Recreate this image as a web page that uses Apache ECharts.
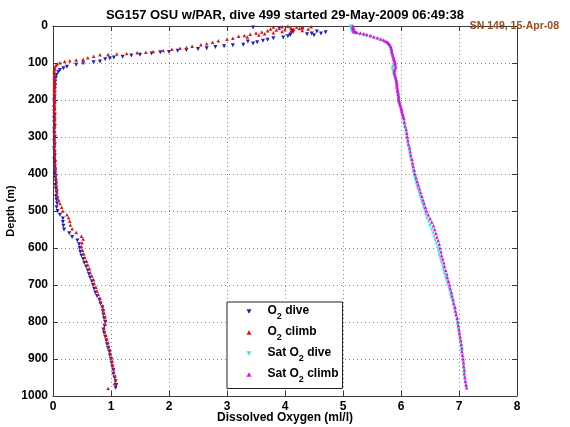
<!DOCTYPE html>
<html>
<head>
<meta charset="utf-8">
<script src="https://cdn.jsdelivr.net/npm/echarts@6/dist/echarts.min.js"></script>
<style>
html,body{margin:0;padding:0;background:#fff;}
#chart{width:570px;height:427px;}
</style>
</head>
<body>
<div id="chart"></div>
<script>
// ---- data: [dissolved oxygen (ml/l), depth (m)] ----
const titleText = 'SG157 OSU w/PAR, dive 499 started 29-May-2009 06:49:38';
const noteText = 'SN 149, 15-Apr-08';
const xTicks = [0, 8, 1];
const yTicks = [0, 1000, 100];
const seriesNames = ['O2 dive', 'O2 climb', 'Sat O2 dive', 'Sat O2 climb'];

const o2Dive = [
 [3.45,4],[3.9,6],[4.3,9],[4.12,12],[4.55,15],[4.14,16],[4.7,17],[4.62,20],[4.46,20],[4.38,22],
 [4.09,24],[4.5,25],[4.05,28],[3.97,31],[3.8,33],[3.7,37],[3.62,40],[3.36,42],[3.52,44],[3.45,47],
 [3.28,51],[3.1,52],[2.95,55],[2.8,57],[2.65,60],[2.5,62],[2.3,65],[2.15,67],[2.0,70],[1.85,71],
 [1.7,74],[1.5,78],[1.35,80],[1.2,83],[1.05,85],[0.98,87],[0.9,90],[0.81,96],[0.7,98],[0.52,101],
 [0.4,105],[0.24,110],[0.18,114],[0.12,119],[0.09,124],[0.06,132],[0.05,140],[0.04,150],[0.04,160],[0.03,170],
 [0.03,180],[0.03,190],[0.02,200],[0.03,210],[0.02,220],[0.02,230],[0.03,240],[0.02,250],[0.02,260],[0.03,270],
 [0.02,280],[0.02,290],[0.03,300],[0.02,310],[0.03,320],[0.02,330],[0.03,340],[0.03,350],[0.02,360],[0.03,370],
 [0.03,380],[0.04,390],[0.03,400],[0.04,410],[0.05,420],[0.04,430],[0.05,440],[0.06,450],[0.05,460],[0.06,470],
 [0.07,480],[0.06,490],[0.08,500],[0.12,510],[0.17,520],[0.17,530],[0.18,540],[0.19,550],[0.28,560],[0.33,570],
 [0.42,580],[0.45,590],[0.46,600],[0.47,610],[0.49,620],[0.52,630],[0.54,640],[0.57,650],[0.6,660],[0.62,670],
 [0.64,680],[0.67,690],[0.69,700],[0.71,710],[0.73,720],[0.76,730],[0.8,740],[0.82,750],[0.85,760],[0.86,770],
 [0.87,780],[0.88,790],[0.9,800],[0.89,810],[0.87,820],[0.88,830],[0.9,840],[0.92,850],[0.93,860],[0.95,870],
 [0.97,880],[0.98,890],[1.0,900],[1.01,910],[1.02,920],[1.04,930],[1.04,940],[1.06,950],[1.08,960],[1.09,970],[1.08,978]
];

const o2Climb = [
 [4.05,1],[3.95,2],[4.2,3],[3.8,3],[4.3,4],[4.1,5],[3.9,6],[4.25,7],[3.75,8],[4.15,9],
 [4.0,10],[3.85,11],[4.3,12],[3.7,13],[4.1,14],[3.95,15],[4.4,8],[4.45,2],[3.6,16],[3.8,18],
 [3.5,19],[3.65,21],[3.4,22],[3.55,24],[3.3,26],[3.2,28],[3.35,30],[3.1,33],[3.0,36],[2.85,40],
 [2.75,44],[2.65,48],[2.55,51],[2.4,55],[2.3,58],[2.19,60],[2.05,63],[1.9,66],[1.73,69],[1.6,71],
 [1.45,72],[1.27,74],[1.1,76],[0.95,77],[0.81,78],[0.7,82],[0.6,86],[0.52,90],[0.4,92],[0.29,94],
 [0.2,96],[0.12,99],[0.07,103],[0.05,107],[0.03,112],[0.03,116],[0.02,120],[0.02,125],[0.03,130],[0.02,135],
 [0.02,140],[0.03,145],[0.02,150],[0.02,155],[0.03,160],[0.02,165],[0.02,170],[0.03,175],[0.02,180],[0.02,185],
 [0.03,190],[0.02,195],[0.02,200],[0.03,205],[0.02,210],[0.02,215],[0.03,220],[0.02,225],[0.02,230],[0.03,235],
 [0.02,240],[0.03,245],[0.03,250],[0.02,255],[0.03,262],[0.03,270],[0.02,278],[0.03,286],[0.03,294],[0.02,302],
 [0.03,310],[0.03,318],[0.02,326],[0.03,334],[0.03,342],[0.03,350],[0.04,360],[0.03,370],[0.04,380],[0.04,390],
 [0.05,400],[0.05,410],[0.06,420],[0.06,430],[0.07,440],[0.07,450],[0.08,460],[0.1,470],[0.12,480],[0.15,490],
 [0.17,500],[0.24,510],[0.27,518],[0.29,528],[0.3,538],[0.33,548],[0.4,558],[0.49,568],[0.52,576],[0.5,586],
 [0.49,596],[0.51,606],[0.53,616],[0.55,626],[0.58,636],[0.6,646],[0.63,656],[0.64,666],[0.67,676],[0.7,686],
 [0.71,696],[0.74,706],[0.76,716],[0.78,726],[0.81,736],[0.82,746],[0.85,756],[0.87,766],[0.88,776],[0.9,786],
 [0.91,796],[0.9,806],[0.88,816],[0.89,826],[0.91,836],[0.93,846],[0.95,856],[0.96,866],[0.98,876],[0.99,886],
 [1.01,896],[1.02,906],[1.03,916],[1.05,926],[1.05,936],[1.07,946],[1.08,956],[1.06,966],[0.95,980]
];

const satDive = [
 [5.14,0],[5.14,2],[5.14,4],[5.15,6],[5.15,8],[5.15,10],[5.15,12],[5.16,14],[5.16,16],[5.17,18],
 [5.18,19],[5.22,21],[5.28,23],[5.35,25],[5.41,27],[5.48,30],[5.54,33],[5.6,36],[5.65,39],[5.7,42],
 [5.74,45],[5.77,48],[5.79,51],[5.81,55],[5.82,60],[5.83,65],[5.84,70],[5.84,75],[5.85,80],[5.86,85],
 [5.87,90],[5.87,95],[5.88,100],[5.87,105],[5.86,110],[5.85,115],[5.86,120],[5.87,125],[5.88,130],[5.89,135],
 [5.9,140],[5.91,145],[5.91,150],[5.92,155],[5.92,160],[5.93,165],[5.93,170],[5.94,175],[5.94,180],[5.95,185],
 [5.95,190],[5.96,195],[5.96,200],[5.97,205],[5.97,210],[5.98,215],[5.99,220],[6.0,225],[6.01,230],[6.02,235],
 [6.02,240],[6.03,245],[6.04,250],[6.05,260],[6.06,270],[6.08,280],[6.09,290],[6.1,300],[6.11,310],[6.12,320],
 [6.14,330],[6.15,340],[6.16,350],[6.17,360],[6.19,370],[6.2,380],[6.21,390],[6.22,400],[6.24,410],[6.26,420],
 [6.27,430],[6.29,440],[6.31,450],[6.33,460],[6.35,470],[6.37,480],[6.39,490],[6.41,500],[6.43,510],[6.45,520],
 [6.48,530],[6.5,540],[6.53,550],[6.55,560],[6.57,570],[6.59,580],[6.61,590],[6.63,600],[6.65,610],[6.66,620],
 [6.68,630],[6.7,640],[6.72,650],[6.73,660],[6.75,670],[6.77,680],[6.79,690],[6.81,700],[6.83,710],[6.85,720],
 [6.86,730],[6.88,740],[6.9,750],[6.92,760],[6.93,770],[6.95,780],[6.96,790],[6.97,800],[6.98,810],[6.99,820],
 [7.0,830],[7.01,840],[7.02,850],[7.03,860],[7.04,870],[7.05,880],[7.06,890],[7.07,900],[7.07,910],[7.08,920],
 [7.09,930],[7.09,940],[7.1,950],[7.11,960],[7.12,970],[7.13,975]
];

const satClimb = [
 [5.17,0],[5.17,2],[5.17,4],[5.18,6],[5.18,8],[5.18,10],[5.19,12],[5.19,14],[5.2,15],[5.22,16],
 [5.24,17],[5.3,19],[5.36,21],[5.41,23],[5.47,26],[5.53,29],[5.59,32],[5.65,35],[5.7,38],[5.74,41],
 [5.77,44],[5.79,47],[5.8,50],[5.82,55],[5.83,60],[5.84,65],[5.84,70],[5.85,75],[5.86,80],[5.87,85],
 [5.88,90],[5.89,95],[5.9,100],[5.9,105],[5.91,110],[5.9,115],[5.89,120],[5.88,125],[5.89,130],[5.9,135],
 [5.91,140],[5.92,145],[5.92,150],[5.93,155],[5.93,160],[5.93,165],[5.94,170],[5.94,175],[5.95,180],[5.95,185],
 [5.96,190],[5.96,195],[5.96,200],[5.97,205],[5.98,210],[5.99,215],[6.0,220],[6.01,225],[6.01,230],[6.02,235],
 [6.03,240],[6.04,245],[6.05,250],[6.06,260],[6.07,270],[6.09,280],[6.1,290],[6.11,300],[6.12,310],[6.13,320],
 [6.15,330],[6.16,340],[6.17,350],[6.19,360],[6.2,370],[6.21,380],[6.23,390],[6.24,400],[6.26,410],[6.28,420],
 [6.3,430],[6.32,440],[6.34,450],[6.36,460],[6.38,470],[6.4,480],[6.42,490],[6.44,500],[6.47,510],[6.5,520],
 [6.53,530],[6.56,540],[6.58,550],[6.6,560],[6.62,570],[6.64,580],[6.66,590],[6.67,600],[6.69,610],[6.7,620],
 [6.72,630],[6.74,640],[6.75,650],[6.77,660],[6.79,670],[6.8,680],[6.82,690],[6.84,700],[6.85,710],[6.87,720],
 [6.88,730],[6.9,740],[6.91,750],[6.93,760],[6.94,770],[6.95,780],[6.97,790],[6.98,800],[6.99,810],[7.0,820],
 [7.01,830],[7.02,840],[7.03,850],[7.04,860],[7.05,870],[7.05,880],[7.06,890],[7.07,900],[7.08,910],[7.08,920],
 [7.09,930],[7.09,940],[7.1,950],[7.11,960],[7.12,970],[7.13,978]
];

// ---- chart ----
const FONT = '"Liberation Sans", Arial, Helvetica, sans-serif';
const AX = '#3a3a3a';
const triDown = 'path://M0,0L10,0L5,9Z';
const triUp = 'path://M5,0L10,9L0,9Z';

function gridAxis(pos, showLabels, range) {
  return {
    type: 'value', position: pos, min: range[0], max: range[1], interval: range[2],
    axisLine: {show: true, onZero: false, lineStyle: {color: AX, width: 1}},
    axisTick: {show: true, inside: true, length: 5, lineStyle: {color: AX}},
    axisLabel: {show: showLabels, fontFamily: FONT, fontWeight: 'bold', fontSize: 12, color: '#000', margin: 5,
                formatter: function (v) { return String(v); }},
    splitLine: {show: showLabels, lineStyle: {color: '#8a8a8a', type: [1, 3], width: 1}}
  };
}

const xa = gridAxis('bottom', true, xTicks);
xa.name = 'Dissolved Oxygen (ml/l)';
xa.nameLocation = 'middle';
xa.nameGap = 16;
xa.nameMoveOverlap = false;
xa.nameTextStyle = {fontFamily: FONT, fontWeight: 'bold', fontSize: 12, color: '#000'};
const xaTop = gridAxis('top', false, xTicks);

const ya = gridAxis('left', true, yTicks);
ya.inverse = true;
ya.name = 'Depth (m)';
ya.nameLocation = 'middle';
ya.nameRotate = 90;
ya.nameGap = 37;
ya.nameMoveOverlap = false;
ya.nameTextStyle = {fontFamily: FONT, fontWeight: 'bold', fontSize: 11, color: '#000'};
const yaRight = gridAxis('right', false, yTicks);
yaRight.inverse = true;

function sc(name, data, color, symbol, size) {
  return {
    name: name, type: 'scatter', data: data, symbol: symbol, symbolSize: size,
    itemStyle: {color: color, opacity: 1}, xAxisIndex: 0, yAxisIndex: 0, silent: true
  };
}

const chart = echarts.init(document.getElementById('chart'), null, {renderer: 'canvas'});
chart.setOption({
  animation: false,
  backgroundColor: '#fff',
  title: [
    {text: titleText, left: 'center', top: 4,
     textStyle: {fontFamily: FONT, fontWeight: 'bold', fontSize: 13, color: '#000'}},
    {text: noteText, right: 6, top: 16,
     textStyle: {fontFamily: FONT, fontWeight: 'bold', fontSize: 10.5, color: '#9a4a1c'}}
  ],
  grid: {left: 53, right: 53, top: 26, bottom: 31, containLabel: false, outerBoundsMode: 'none'},
  xAxis: [xa, xaTop],
  yAxis: [ya, yaRight],
  legend: {
    orient: 'vertical', left: 227, top: 302,
    backgroundColor: '#fff', borderColor: '#222', borderWidth: 1,
    padding: [2.5, 4, 0, 19.5], itemGap: 0, itemWidth: 5, itemHeight: 5,
    selectedMode: false,
    data: seriesNames,
    formatter: function (name) {
      const parts = name.split('O2');
      return parts.map(function (p) { return p ? '{t|' + p + '}' : ''; }).join('{t|O}{s|2}');
    },
    textStyle: {
      fontFamily: FONT, color: '#000', padding: [0, 0, 0, 11],
      rich: {
        t: {fontFamily: FONT, fontWeight: 'bold', fontSize: 12, color: '#000', lineHeight: 14, verticalAlign: 'top'},
        s: {fontFamily: FONT, fontWeight: 'bold', fontSize: 9, color: '#000', lineHeight: 9, verticalAlign: 'top', padding: [8, 0, 4, 0]}
      }
    }
  },
  series: [
    sc(seriesNames[0], o2Dive, '#1c1cc8', triDown, 4),
    sc(seriesNames[1], o2Climb, '#e01010', triUp, 3.5),
    sc(seriesNames[2], satDive, '#3fe3e3', triDown, 3.5),
    sc(seriesNames[3], satClimb, '#dd10dd', triUp, 3.5)
  ]
});
</script>
</body>
</html>
